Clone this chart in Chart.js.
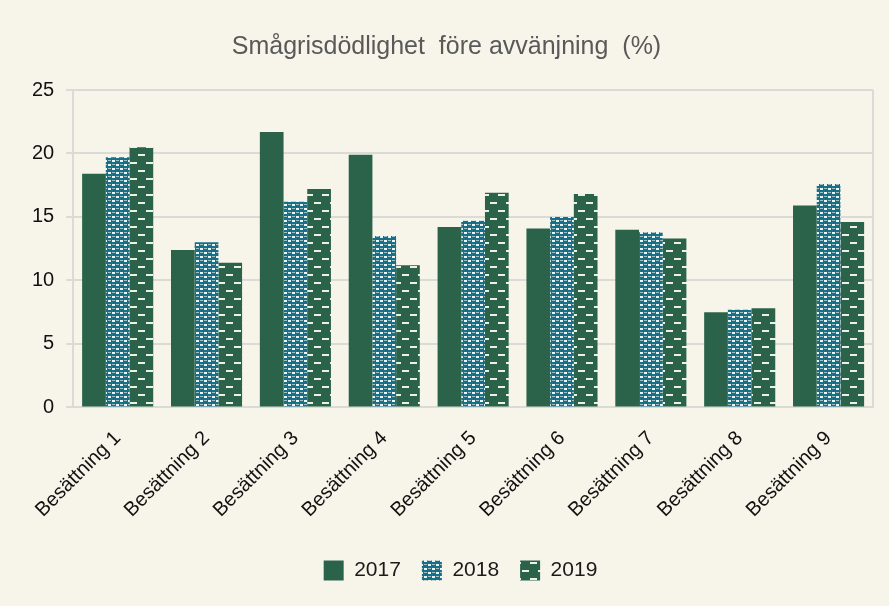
<!DOCTYPE html>
<html><head><meta charset="utf-8">
<script src="https://cdn.jsdelivr.net/npm/chart.js@4"></script>
<style>html,body{margin:0;padding:0;background:#F7F5E9;}#wrap{width:889px;height:606px;}</style>
</head><body><div id="wrap"><canvas id="c" width="889" height="606"></canvas></div>
<script>
const categories = ["Besättning 1","Besättning 2","Besättning 3","Besättning 4","Besättning 5","Besättning 6","Besättning 7","Besättning 8","Besättning 9"];
const years = ["2017","2018","2019"];
const v2017 = [18.4,12.4,21.7,19.9,14.2,14.1,14.0,7.5,15.9];
const v2018 = [19.7,13.0,16.2,13.5,14.7,15.0,13.8,7.7,17.6];
const v2019 = [20.5,11.4,17.2,11.2,16.9,16.8,13.3,7.8,14.6];
const yTicks = [0,5,10,15,20,25];

function dotPattern(){
  const c=document.createElement('canvas');c.width=8;c.height=8;const x=c.getContext('2d');
  x.fillStyle='#17708A';x.fillRect(0,0,8,8);
  x.fillStyle='#F2F4EC';
  x.fillRect(0,0,3,2);x.fillRect(4,4,3,2);
  x.fillStyle='#9CC3CC';
  x.fillRect(4,0,3,1);x.fillRect(0,4,3,1);
  return x.createPattern(c,'repeat');
}
function dashPattern(){
  const c=document.createElement('canvas');c.width=16;c.height=16;const x=c.getContext('2d');
  x.fillStyle='#2A634A';x.fillRect(0,0,16,16);
  x.fillStyle='#EEF0E6';
  x.fillRect(2,2,7,2);x.fillRect(10,10,7,2);x.fillRect(0,10,1,2);
  return x.createPattern(c,'repeat');
}
const bgPlugin={id:'bg',beforeDraw(ch){const x=ch.ctx;x.save();x.fillStyle='#F7F5E9';x.fillRect(0,0,ch.width,ch.height);x.restore();}};
const borderPlugin={id:'rb',afterDraw(ch){const a=ch.chartArea,x=ch.ctx;x.save();x.strokeStyle='#DADAD6';x.lineWidth=2;x.beginPath();x.moveTo(a.right,a.top);x.lineTo(a.right,a.bottom);x.stroke();x.restore();}};
const legendShift={id:'ls',afterLayout(ch){if(ch.legend){ch.legend.left+=14;ch.legend.right+=14;}}};
new Chart(document.getElementById('c'),{
  type:'bar',
  data:{labels:categories,datasets:[
    {label:years[0],data:v2017,backgroundColor:'#2A634A',borderColor:'#2A634A',borderWidth:0},
    {label:years[1],data:v2018,backgroundColor:dotPattern(),borderColor:'#17708A',borderWidth:0},
    {label:years[2],data:v2019,backgroundColor:dashPattern(),borderColor:'#2A634A',borderWidth:0}
  ]},
  options:{
    responsive:false,animation:false,
    layout:{padding:{left:20,right:16,top:10,bottom:15}},
    datasets:{bar:{categoryPercentage:0.8,barPercentage:1.0}},
    plugins:{
      title:{display:true,text:'Smågrisdödlighet  före avvänjning  (%)',color:'#595959',font:{family:'Liberation Sans',size:25,weight:'normal'},padding:{top:22,bottom:28}},
      legend:{position:'bottom',labels:{boxWidth:20,boxHeight:20,color:'#1a1a1a',font:{family:'Liberation Sans',size:21},padding:21}},
      tooltip:{enabled:false}
    },
    scales:{
      x:{grid:{display:false},border:{color:'#DADAD6',width:2},
        afterFit(s){s.height+=6;},
        ticks:{color:'#111',font:{family:'Liberation Sans',size:20},maxRotation:45,minRotation:45,padding:11}},
      y:{min:0,max:25,afterBuildTicks(s){s.ticks=yTicks.map(v=>({value:v}));},
        grid:{color:'#DADAD6',lineWidth:2,drawTicks:true,tickLength:7},border:{color:'#DADAD6',width:2},
        ticks:{color:'#111',font:{family:'Liberation Sans',size:20},padding:12}}
    }
  },
  plugins:[bgPlugin,borderPlugin,legendShift]
});
</script></body></html>
